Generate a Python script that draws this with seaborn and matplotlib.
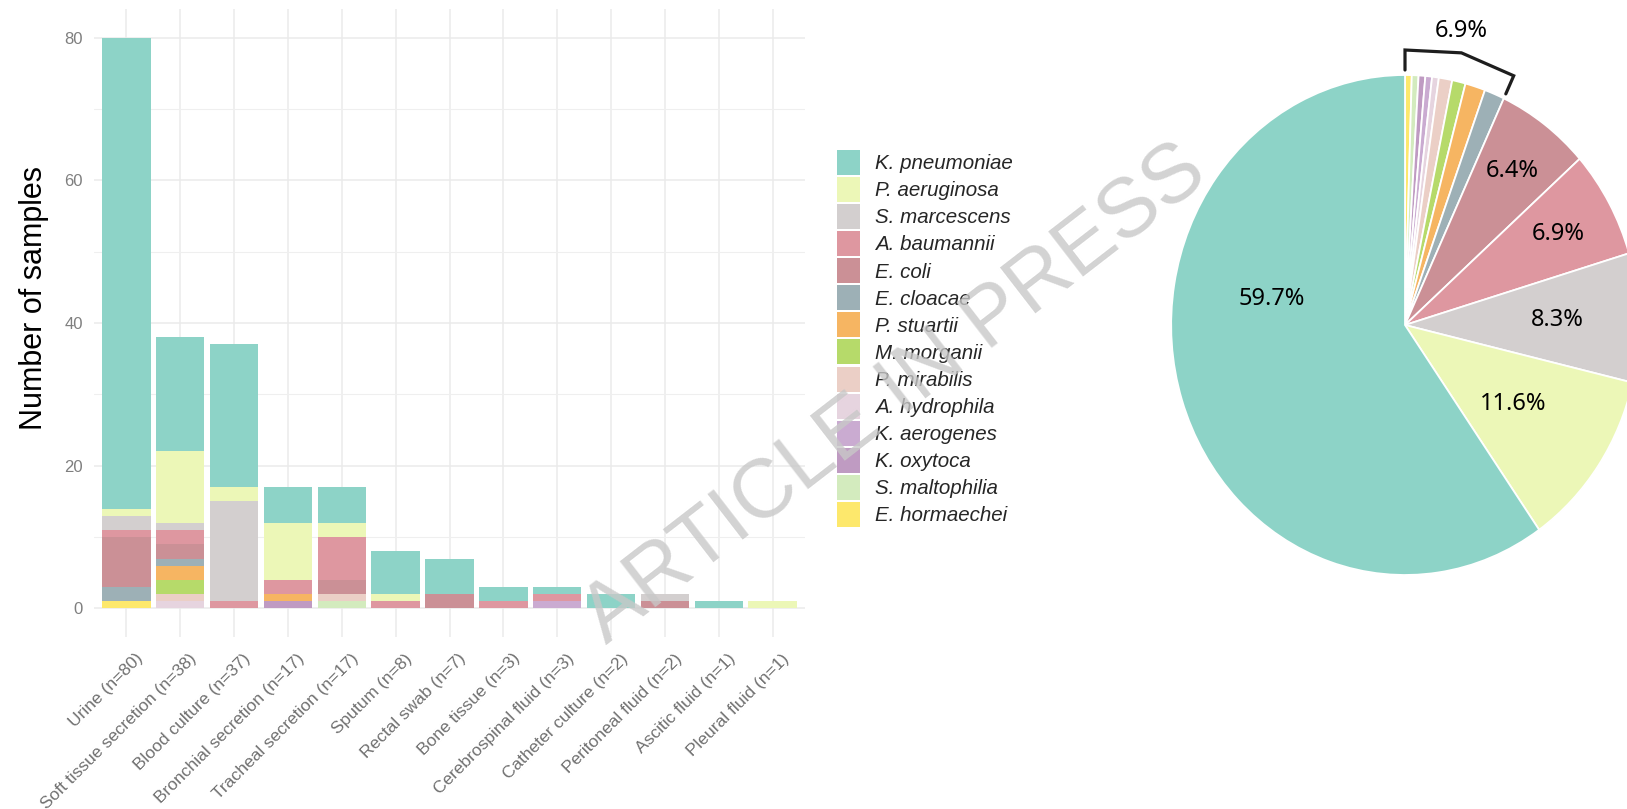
import numpy as np
import pandas as pd
import matplotlib
matplotlib.use("Agg")
import matplotlib.pyplot as plt
import seaborn as sns
from matplotlib.patches import Patch
from matplotlib.transforms import ScaledTranslation

# ---------------- data ----------------
sites = ["Urine (n=80)", "Soft tissue secretion (n=38)", "Blood culture (n=37)",
         "Bronchial secretion (n=17)", "Tracheal secretion (n=17)", "Sputum (n=8)",
         "Rectal swab (n=7)", "Bone tissue (n=3)", "Cerebrospinal fluid (n=3)",
         "Catheter culture (n=2)", "Peritoneal fluid (n=2)", "Ascitic fluid (n=1)",
         "Pleural fluid (n=1)"]

species = ["K. pneumoniae", "P. aeruginosa", "S. marcescens", "A. baumannii", "E. coli",
           "E. cloacae", "P. stuartii", "M. morganii", "P. mirabilis", "A. hydrophila",
           "K. aerogenes", "K. oxytoca", "S. maltophilia", "E. hormaechei"]

k_pneumoniae   = [66, 16, 20, 5, 5, 6, 5, 2, 1, 2, 0, 1, 0]
p_aeruginosa   = [1, 10, 2, 8, 2, 1, 0, 0, 0, 0, 0, 0, 1]
s_marcescens   = [2, 1, 14, 0, 0, 0, 0, 0, 0, 0, 1, 0, 0]
a_baumannii    = [1, 2, 1, 2, 6, 1, 0, 1, 1, 0, 0, 0, 0]
e_coli         = [7, 2, 0, 0, 2, 0, 2, 0, 0, 0, 1, 0, 0]
e_cloacae      = [2, 1, 0, 0, 0, 0, 0, 0, 0, 0, 0, 0, 0]
p_stuartii     = [0, 2, 0, 1, 0, 0, 0, 0, 0, 0, 0, 0, 0]
m_morganii     = [0, 2, 0, 0, 0, 0, 0, 0, 0, 0, 0, 0, 0]
p_mirabilis    = [0, 1, 0, 0, 1, 0, 0, 0, 0, 0, 0, 0, 0]
a_hydrophila   = [0, 1, 0, 0, 0, 0, 0, 0, 0, 0, 0, 0, 0]
k_aerogenes    = [0, 0, 0, 0, 0, 0, 0, 0, 1, 0, 0, 0, 0]
k_oxytoca      = [0, 0, 0, 1, 0, 0, 0, 0, 0, 0, 0, 0, 0]
s_maltophilia  = [0, 0, 0, 0, 1, 0, 0, 0, 0, 0, 0, 0, 0]
e_hormaechei   = [1, 0, 0, 0, 0, 0, 0, 0, 0, 0, 0, 0, 0]

colors = ["#8DD3C7", "#ECF7B7", "#D3CFCF", "#DE97A0", "#CB9096", "#9DB0B6", "#F6B562",
          "#B6DA6A", "#EBCFC6", "#E6D4DF", "#CAABD1", "#BF9BC2", "#D3EBBE", "#FDE86C"]

pie_labels = ["59.7%", "11.6%", "8.3%", "6.9%", "6.4%"]   # for the five largest species
other_label = "6.9%"
yticks = [0, 20, 40, 60, 80]

counts = pd.DataFrame(
    dict(zip(species, [k_pneumoniae, p_aeruginosa, s_marcescens, a_baumannii, e_coli,
                       e_cloacae, p_stuartii, m_morganii, p_mirabilis, a_hydrophila,
                       k_aerogenes, k_oxytoca, s_maltophilia, e_hormaechei])),
    index=sites)

# ---------------- figure ----------------
W, H = 1627, 809
sns.set_theme(style="white")
plt.rcParams["font.family"] = ["Liberation Sans", "DejaVu Sans"]

fig = plt.figure(figsize=(W / 100, H / 100), dpi=100)
ax = fig.add_axes([94 / W, 1 - 637 / H, 711 / W, 628 / H])

# stacked bars: first species on top, last species at the bottom
cum = counts[species[::-1]].cumsum(axis=1)
for sp, col in zip(species, colors):
    sns.barplot(x=sites, y=cum[sp].values, order=sites, color=col, width=0.9,
                saturation=1, errorbar=None, ax=ax, zorder=2, linewidth=0)

ax.set_axisbelow(True)
ax.set_xlim(-0.6, len(sites) - 0.4)
ax.set_ylim(-4, 84)
ax.set_yticks(yticks)
ax.set_yticks([10, 30, 50, 70], minor=True)
ax.grid(True, which="major", axis="both", color="#EBEBEB", linewidth=1.1)
ax.grid(True, which="minor", axis="y", color="#EFEFEF", linewidth=0.8)
for s in ax.spines.values():
    s.set_visible(False)
ax.tick_params(axis="both", which="both", length=0)
ax.tick_params(axis="y", labelsize=12, labelcolor="#7F7F7F", pad=8)
ax.set_xticks(range(len(sites)))
ax.set_xticklabels(sites, rotation=45, ha="right", va="top", rotation_mode="anchor",
                   fontsize=12.5, color="#707070")
ax.tick_params(axis="x", pad=10)
off = ScaledTranslation(9 / 100, 0, fig.dpi_scale_trans)
for lbl in ax.get_xticklabels():
    lbl.set_transform(lbl.get_transform() + off)
ax.set_xlabel("")
ax.set_ylabel("Number of samples", fontsize=22, color="black")
ax.yaxis.set_label_coords(-0.063, 0.54)

# legend
handles = [Patch(facecolor=c, edgecolor="none") for c in colors]
fig.legend(handles, species, loc="upper left", bbox_to_anchor=(837 / W, 1 - 150 / H),
           frameon=False, borderpad=0, borderaxespad=0, handlelength=1.12,
           handleheight=1.495, labelspacing=0.1, handletextpad=0.73,
           prop={"style": "italic", "size": 14.8})

# ---------------- pie ----------------
pax = fig.add_axes([(1405 - 304) / W, 1 - 650 / H, 608 / W, 650 / H])
pie_species = species[::-1]
totals = counts.sum(axis=0)
vals = np.array([totals[s] for s in pie_species], dtype=float)
pax.pie(vals, colors=colors[::-1], startangle=90, counterclock=False,
        wedgeprops=dict(edgecolor="white", linewidth=1.3))
pax.set_aspect("auto")
pax.set_xlim(-1.3, 1.3)
pax.set_ylim(-1.3, 1.3)
pax.axis("off")

frac = vals / vals.sum()
starts = np.concatenate([[0], np.cumsum(frac)[:-1]]) * 360
ends = np.cumsum(frac) * 360
mids = dict(zip(pie_species, (starts + ends) / 2))

def polar(angle_deg, r):
    a = np.deg2rad(angle_deg)
    return r * np.sin(a), r * np.cos(a)

label_pos = {
    "K. pneumoniae": (280.4, 0.578),
    "P. aeruginosa": (mids["P. aeruginosa"], 0.56),
    "S. marcescens": (mids["S. marcescens"], 0.65),
    "A. baumannii": (mids["A. baumannii"], 0.75),
    "E. coli": (mids["E. coli"], 0.77),
}
for sp, txt in zip(species[:5], pie_labels):
    x, y = polar(*label_pos[sp])
    pax.text(x, y, txt, ha="center", va="center", fontsize=17, family="Noto Sans",
             color="black")

# bracket for the minor species
n_other = len(species) - 5
span = ends[n_other - 1]
pts = [polar(0, 1.02), polar(0, 1.1), polar(span / 2, 1.115), polar(span, 1.1), polar(span, 1.02)]
pax.plot([p[0] for p in pts], [p[1] for p in pts], color="#1E1E1E", linewidth=2.3,
         solid_joinstyle="miter", clip_on=False)
lx, ly = polar(span / 2 - 1, 1.2)
pax.text(lx, ly, other_label, ha="center", va="center", fontsize=17, family="Noto Sans",
         color="black")

# watermark
fig.text(895 / W, 1 - 394 / H, "ARTICLE IN PRESS", rotation=37.7, fontsize=60,
         color="#C8C8C8", alpha=0.8, ha="center", va="center", zorder=10)

fig.savefig("out.png", dpi=100)
